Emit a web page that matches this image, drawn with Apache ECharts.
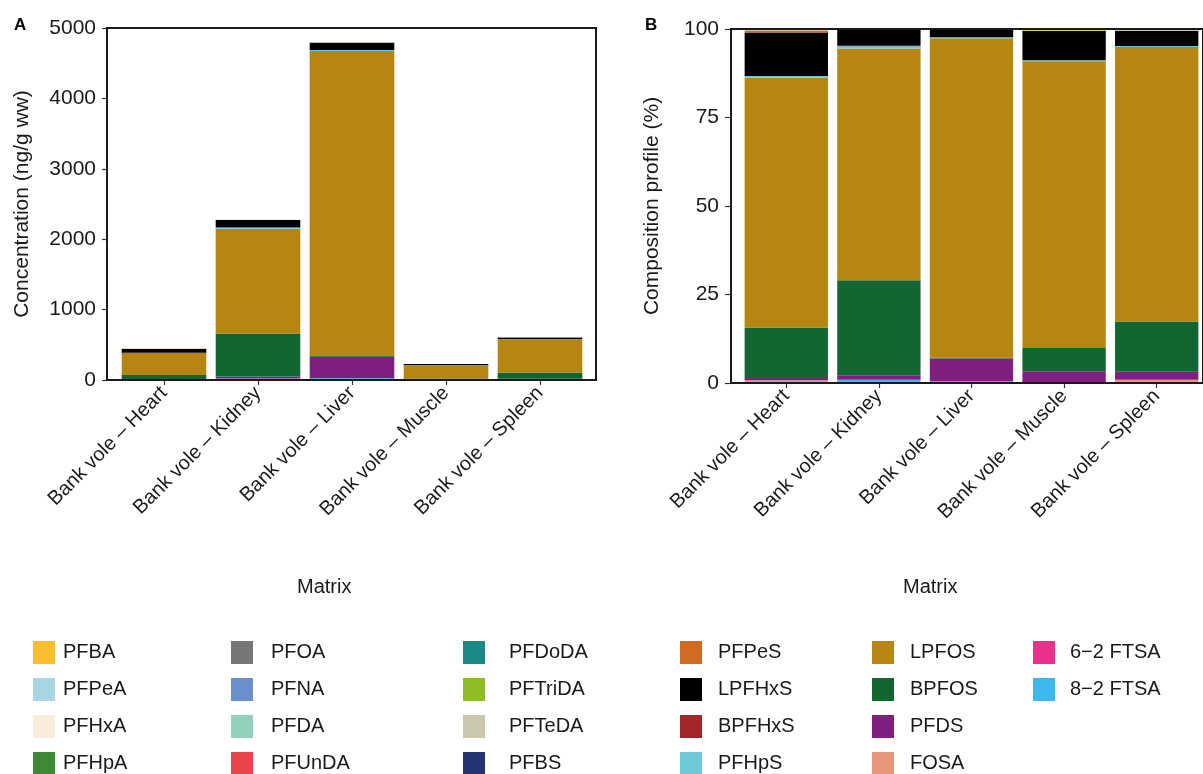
<!DOCTYPE html>
<html>
<head>
<meta charset="utf-8">
<script src="https://cdn.jsdelivr.net/npm/echarts@6/dist/echarts.min.js"></script>
<style>
html,body{margin:0;padding:0;background:#fff;}
#chart{width:1203px;height:774px;}
</style>
</head>
<body>
<div id="chart"></div>
<script>
// ---- data ----
const categories = ['Bank vole \u2013 Heart', 'Bank vole \u2013 Kidney', 'Bank vole \u2013 Liver', 'Bank vole \u2013 Muscle', 'Bank vole \u2013 Spleen'];
const compounds = ['PFBA','PFPeA','PFHxA','PFHpA','PFOA','PFNA','PFDA','PFUnDA','PFDoDA','PFTriDA','PFTeDA','PFBS',
  'PFPeS','LPFHxS','BPFHxS','PFHpS','LPFOS','BPFOS','PFDS','FOSA','6\u22122 FTSA','8\u22122 FTSA'];
const colors = ['#FBBF2D','#A9D6E5','#F8EBDC','#3E8A35','#777777','#6B8FCC','#94D1BD','#E8454A','#1A8A84','#8FBD23','#CBC7AE','#263472',
  '#D26A22','#000000','#A3262A','#6FC8D8','#B78612','#126632','#7F1F7F','#E8967A','#E7318C','#3EB8EA'];

// Panel A: concentration (ng/g ww), values in compounds order
const heartConc  = [1.3,0,0,0,0,0,0,0,0,0,1.3,0, 1.8,54.9,0,2.2,314,62.4,4.0,2.2,1.3,0];
const kidneyConc = [0,0,0,0,0,0,0,0,0,0,2.3,0, 0,104.7,4.6,13.7,1490,610,29.6,0,0,20.5];
const liverConc  = [0,0,0,0,0,0,0,0,0,0,9.6,0, 0,101,0,14.4,4334,9.6,307,0,0,24];
const muscleConc = [1.1,0,0,0,0,0,0,0,0,0,0,0, 0,18.9,0,0.7,184.7,15.0,7.5,0,0,0];
const spleenConc = [0,0,0,0,0,0,1.8,0,0,0,1.8,0, 0,25.5,0,1.8,471,86.3,14.0,5.5,0,0];

// Panel B: composition profile (%), values in compounds order
const heartPct  = [0.3,0,0,0,0,0,0,0,0,0,0.3,0, 0.4,12.3,0,0.5,70.5,14.0,0.9,0.5,0.3,0];
const kidneyPct = [0,0,0,0,0,0,0,0,0,0,0.1,0, 0,4.6,0.2,0.6,65.5,26.8,1.3,0,0,0.9];
const liverPct  = [0,0,0,0,0,0,0,0,0,0,0.2,0, 0,2.1,0,0.3,90.3,0.2,6.4,0,0,0.5];
const musclePct = [0.5,0,0,0,0,0,0,0,0,0,0,0, 0,8.3,0,0.3,81.0,6.6,3.3,0,0,0];
const spleenPct = [0,0,0,0,0,0,0.3,0,0,0,0.3,0, 0,4.2,0,0.3,77.5,14.2,2.3,0.9,0,0];

const concTicks = [0,1000,2000,3000,4000,5000];
const pctTicks = [0,25,50,75,100];

const concByTissue = [heartConc, kidneyConc, liverConc, muscleConc, spleenConc];
const pctByTissue = [heartPct, kidneyPct, liverPct, musclePct, spleenPct];

// ---- chart ----
const FONT = '"Liberation Sans", Arial, sans-serif';
const TXT = '#1a1a1a';
const chart = echarts.init(document.getElementById('chart'), null, {renderer: 'canvas'});

function xAxisFor(gridIndex) {
  return {
    type: 'category', gridIndex: gridIndex, data: categories,
    axisLine: {show: false},
    axisTick: {show: true, alignWithLabel: true, length: 5, lineStyle: {color: '#333', width: 1.2}},
    axisLabel: {rotate: 45, fontSize: 20, fontFamily: FONT, color: TXT, margin: 10, interval: 0}
  };
}
function yAxisFor(gridIndex, max, interval, name, nameGap) {
  return {
    type: 'value', gridIndex: gridIndex, min: 0, max: max, interval: interval, offset: 10,
    splitLine: {show: false},
    axisLine: {show: false},
    axisTick: {show: true, length: 5, lineStyle: {color: '#333', width: 1.2}},
    axisLabel: {fontSize: 21, fontFamily: FONT, color: TXT, margin: 11, formatter: function (v) { return String(v); }},
    name: name, nameLocation: 'middle', nameRotate: 90, nameGap: nameGap,
    nameTextStyle: {fontSize: 21, fontFamily: FONT, color: TXT}
  };
}
function frameAxis(gridIndex) {
  return {type: 'value', gridIndex: gridIndex, show: false, min: 0, max: 1, splitLine: {show: false}};
}

const series = [];
for (let k = compounds.length - 1; k >= 0; k--) {
  series.push({
    name: compounds[k], type: 'bar', stack: 'A', xAxisIndex: 0, yAxisIndex: 0,
    barWidth: '90%', itemStyle: {color: colors[k]},
    data: concByTissue.map(arr => arr[k])
  });
  series.push({
    name: compounds[k], type: 'bar', stack: 'B', xAxisIndex: 1, yAxisIndex: 1,
    barWidth: '90%', itemStyle: {color: colors[k]},
    data: pctByTissue.map(arr => arr[k])
  });
}

const legendCols = [
  {names: compounds.slice(0, 4), left: 33, pad: 3},
  {names: compounds.slice(4, 8), left: 231, pad: 13},
  {names: compounds.slice(8, 12), left: 463, pad: 19},
  {names: compounds.slice(12, 16), left: 680, pad: 11},
  {names: compounds.slice(16, 20), left: 872, pad: 11},
  {names: compounds.slice(20, 22), left: 1033, pad: 10}
];
const legends = legendCols.map(c => ({
  data: c.names, left: c.left, top: 641, height: 150, orient: 'vertical',
  itemWidth: 22, itemHeight: 23, itemGap: 14, icon: 'rect',
  selectedMode: false, padding: 0,
  textStyle: {fontSize: 20, fontFamily: FONT, color: TXT, padding: [0, 0, 0, c.pad]}
}));

chart.setOption({
  animation: false,
  backgroundColor: '#ffffff',
  textStyle: {fontFamily: FONT},
  grid: [
    // data grids (band area, inside the frame padding)
    {left: 117, top: 28, width: 470, height: 352},
    {left: 740, top: 29, width: 466, height: 354},
    // frame grids
    {left: 107, top: 28, width: 489, height: 352, show: true, borderColor: '#1a1a1a', borderWidth: 2, backgroundColor: 'transparent', z: 5},
    {left: 731, top: 29, width: 484, height: 354, show: true, borderColor: '#1a1a1a', borderWidth: 2, backgroundColor: 'transparent', z: 5}
  ],
  xAxis: [xAxisFor(0), xAxisFor(1), frameAxis(2), frameAxis(3)],
  yAxis: [
    yAxisFor(0, concTicks[concTicks.length - 1], concTicks[1] - concTicks[0], 'Concentration (ng/g ww)', 74),
    yAxisFor(1, pctTicks[pctTicks.length - 1], pctTicks[1] - pctTicks[0], 'Composition profile (%)', 67),
    frameAxis(2), frameAxis(3)
  ],
  legend: legends,
  graphic: [
    {type: 'text', left: 14, top: 17, style: {text: 'A', font: 'bold 17px ' + FONT, fill: '#000'}},
    {type: 'text', left: 645, top: 17, style: {text: 'B', font: 'bold 17px ' + FONT, fill: '#000'}},
    {type: 'text', left: 297, top: 577, style: {text: 'Matrix', font: '20px ' + FONT, fill: TXT}},
    {type: 'text', left: 903, top: 577, style: {text: 'Matrix', font: '20px ' + FONT, fill: TXT}}
  ],
  series: series
});
</script>
</body>
</html>
